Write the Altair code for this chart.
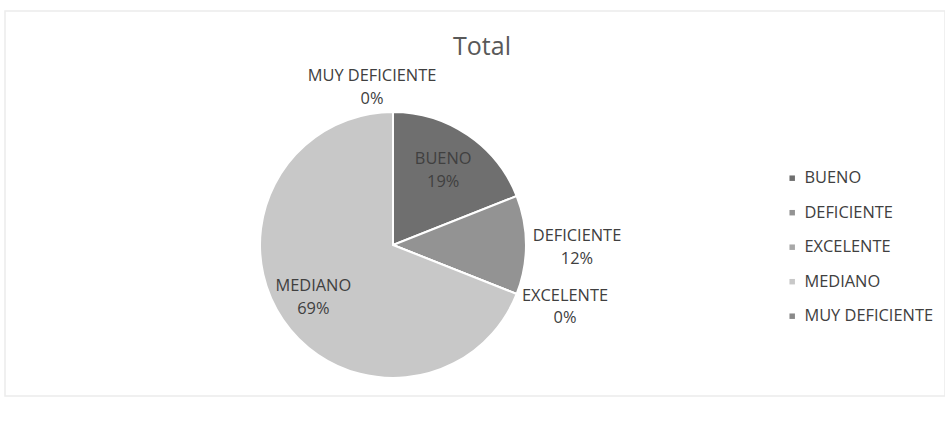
import altair as alt
import pandas as pd

categories = ["BUENO", "DEFICIENTE", "EXCELENTE", "MEDIANO", "MUY DEFICIENTE"]
percents = [19, 12, 0, 69, 0]
colors = ["#6f6f6f", "#939393", "#a8a8a8", "#c8c8c8", "#8a8a8a"]

df = pd.DataFrame({"cat": categories, "pct": percents, "ord": list(range(len(categories)))})

FONT = "Open Sans"
TXT = "#404040"
FS = 16.4

base = alt.Chart(df).transform_calculate(
    label="datum.cat + '\\n' + datum.pct + '%'"
).encode(
    theta=alt.Theta("pct:Q", stack=True),
    order=alt.Order("ord:Q"),
    x=alt.value(388),
    y=alt.value(234),
)

arcs = base.mark_arc(outerRadius=133, stroke="white", strokeWidth=2).encode(
    color=alt.Color(
        "cat:N",
        scale=alt.Scale(domain=categories, range=colors),
        sort=categories,
        legend=alt.Legend(
            title=None,
            orient="none",
            legendX=779,
            legendY=159,
            symbolType="square",
            symbolSize=30,
            symbolStrokeWidth=0,
            labelFont=FONT,
            labelFontSize=FS,
            labelColor=TXT,
            rowPadding=17.5,
            labelOffset=4,
        ),
    )
)


def label_layer(name, radius, dx=0, dy=0):
    return base.transform_calculate(
        shown="datum.cat == '%s' ? datum.label : ''" % name
    ).mark_text(
        radius=radius, dx=dx, dy=dy, font=FONT, fontSize=FS, color=TXT,
        lineBreak="\n", lineHeight=22.5, align="center", baseline="middle",
    ).encode(text="shown:N")


layers = [
    arcs,
    label_layer("BUENO", 100, dx=-6, dy=-3),
    label_layer("MEDIANO", 100, dx=3, dy=-15),
    label_layer("DEFICIENTE", 184, dy=-9),
    label_layer("EXCELENTE", 171, dx=13, dy=-12),
    label_layer("MUY DEFICIENTE", 161, dx=-21, dy=-8),
]

chart = alt.layer(*layers).properties(
    width=940,
    height=385,
    padding={"left": 5, "top": 11, "right": 0, "bottom": 25},
    autosize=alt.AutoSizeParams(type="none"),
    title=alt.TitleParams(
        "Total", font=FONT, fontSize=25, fontWeight="normal", color="#595959",
        anchor="middle", offset=-49, dx=7,
    ),
).configure_view(stroke="#ececec", strokeWidth=1.5)

chart.save("out.html", embed_options={"renderer": "svg", "actions": False})
